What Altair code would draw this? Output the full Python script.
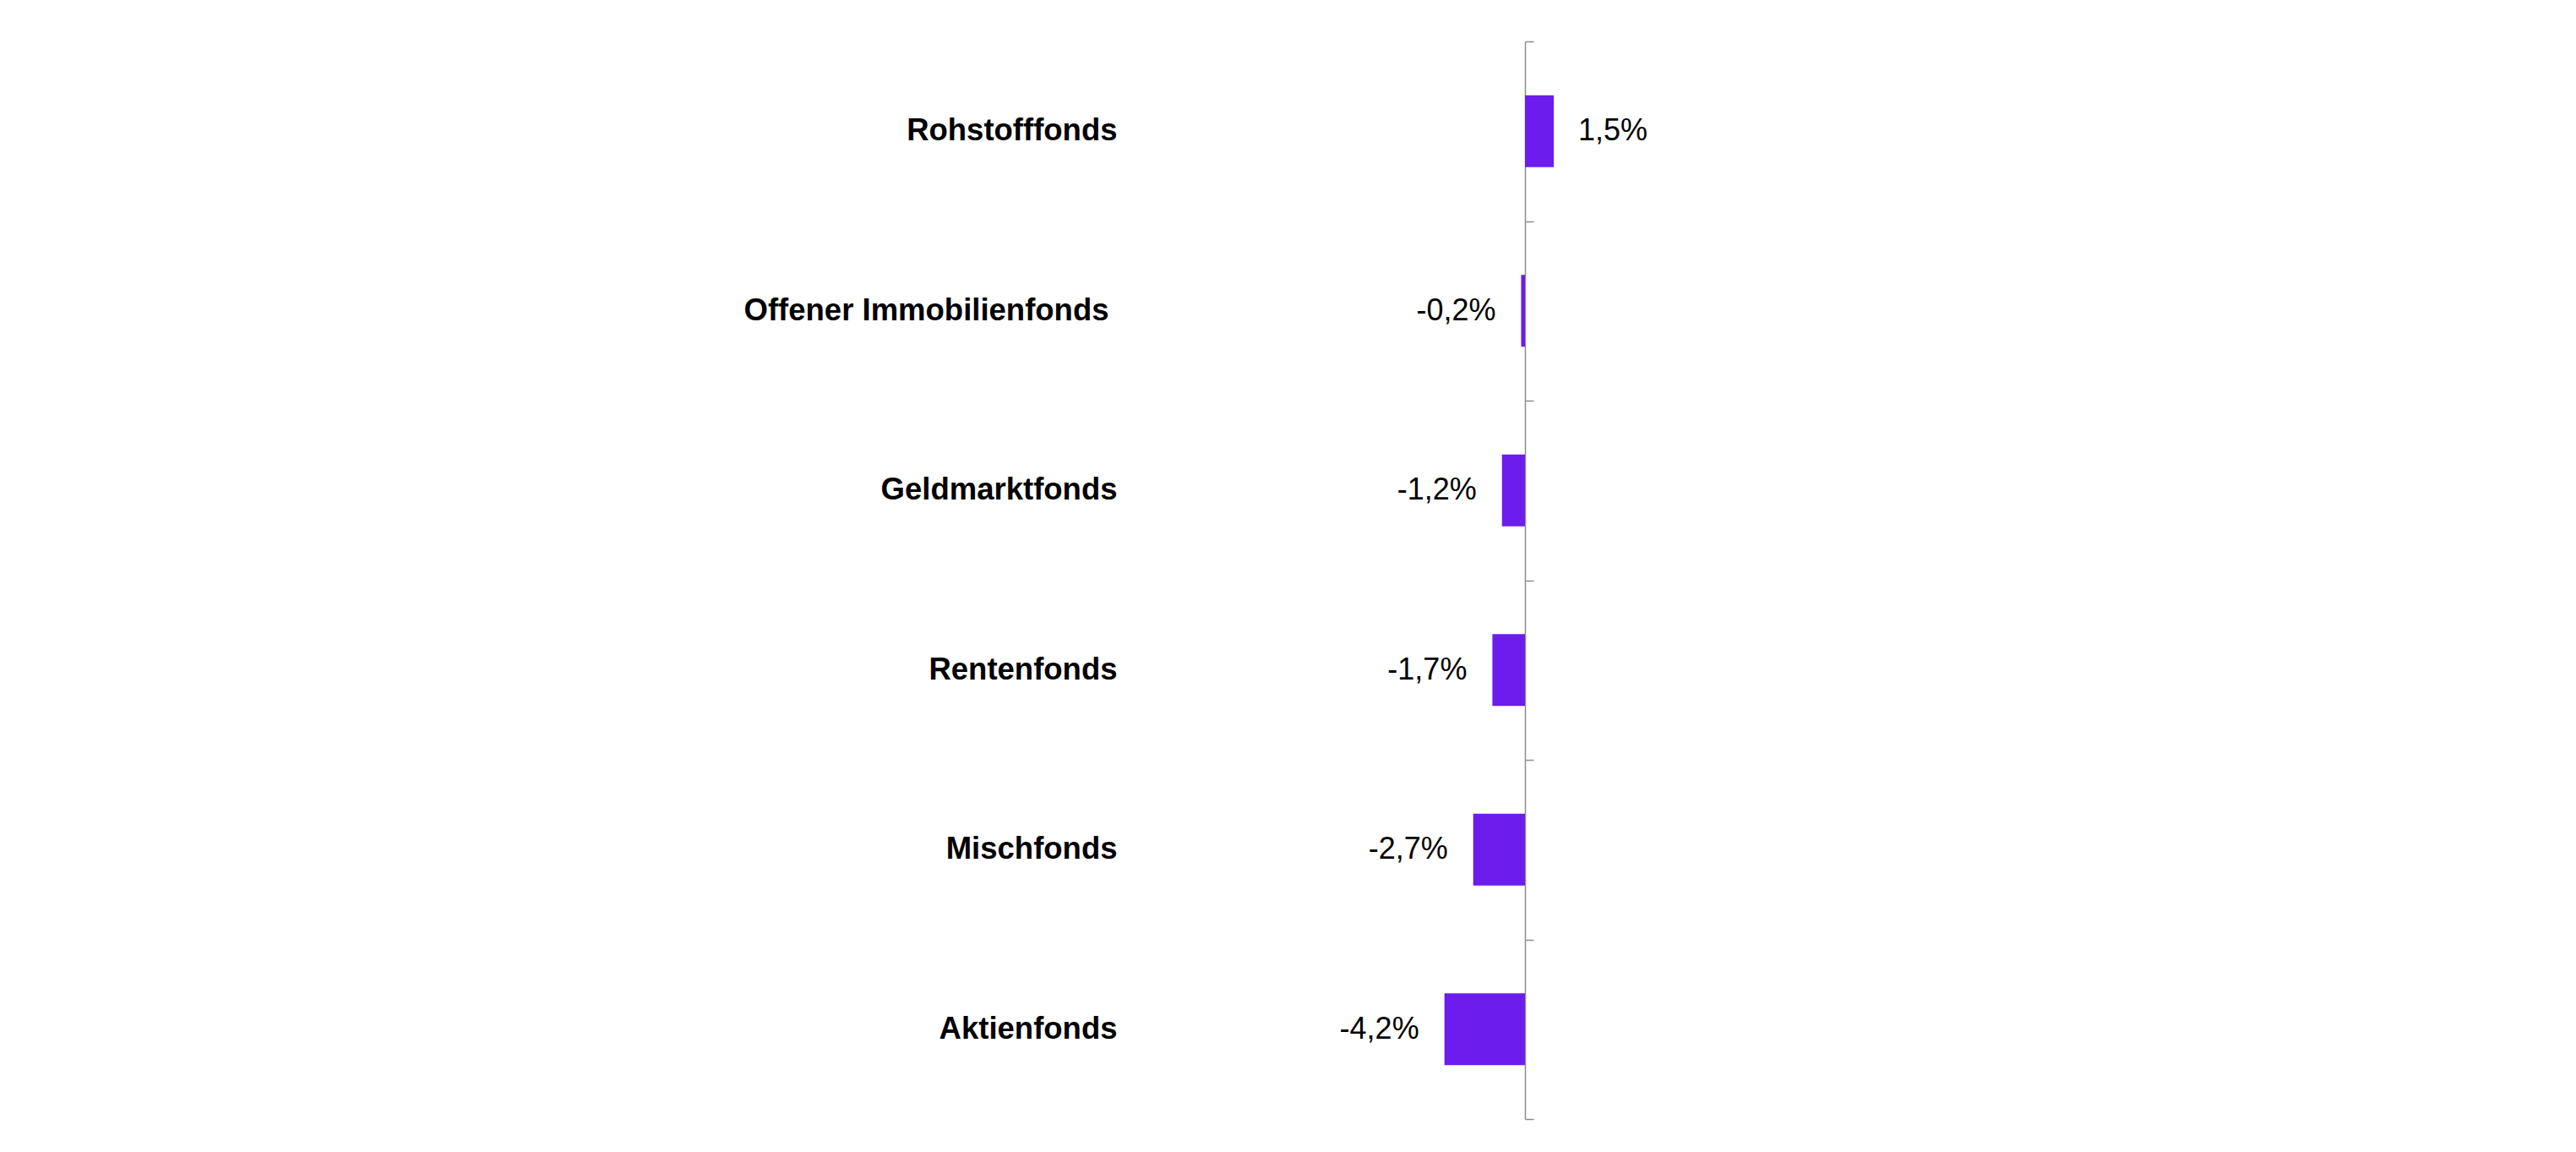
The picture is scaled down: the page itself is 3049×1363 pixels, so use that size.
import altair as alt
import pandas as pd

categories = ["Rohstofffonds", "Offener Immobilienfonds", "Geldmarktfonds",
              "Rentenfonds", "Mischfonds", "Aktienfonds"]
values = [1.5, -0.2, -1.2, -1.7, -2.7, -4.2]
labels = ["1,5%", "-0,2%", "-1,2%", "-1,7%", "-2,7%", "-4,2%"]

df = pd.DataFrame({"cat": categories, "val": values, "lab": labels})

FONT = "Liberation Sans"
AXIS_GRAY = "#8c8c8c"
BAR = "#6C1CEC"

y_scale = alt.Scale(domain=categories, paddingInner=0.6, paddingOuter=0.3)
y_scale_axis = alt.Scale(domain=categories, paddingInner=0, paddingOuter=0)
x_scale = alt.Scale(domain=[-20, 10], nice=False)

base = alt.Chart(df)

bars = base.mark_bar(color=BAR).encode(
    x=alt.X("val:Q", scale=x_scale, axis=None),
    y=alt.Y("cat:N", scale=y_scale, sort=categories,
            axis=alt.Axis(orient="left", title=None, ticks=False, domain=False,
                          labelPadding={"condition": {"test": "datum.value === 'Offener Immobilienfonds'",
                                                      "value": 39},
                                        "value": 29},
                          labelFont=FONT, labelFontSize=36.5,
                          labelFontWeight="bold", labelColor="#000000",
                          labelLimit=1000, grid=False)),
)

pos = base.transform_filter("datum.val >= 0").mark_text(
    align="left", baseline="middle", dx=29, font=FONT, fontSize=36, color="#000000"
).encode(
    x=alt.X("val:Q", scale=x_scale, axis=None),
    y=alt.Y("cat:N", scale=y_scale_axis, sort=categories,
            axis=alt.Axis(orient="right", offset=-227, title=None, labels=False,
                          ticks=True, tickBand="extent", tickSize=10,
                          tickColor=AXIS_GRAY, tickWidth=1.5,
                          domainColor=AXIS_GRAY, domainWidth=1.5, grid=False)),
    text="lab:N",
)

neg = base.transform_filter("datum.val < 0").mark_text(
    align="right", baseline="middle", dx=-30, font=FONT, fontSize=36, color="#000000"
).encode(
    x=alt.X("val:Q", scale=x_scale, axis=None),
    y=alt.Y("cat:N", scale=y_scale, sort=categories, axis=None),
    text="lab:N",
)

chart = alt.layer(bars, pos, neg).resolve_scale(y="independent").resolve_axis(
    y="independent"
).properties(
    width=681, height=1275,
    padding={"left": 872, "top": 40, "right": 5, "bottom": 5},
    background="#ffffff",
).configure_view(stroke=None)

chart.save("out.html", embed_options={"renderer": "svg", "actions": False})
